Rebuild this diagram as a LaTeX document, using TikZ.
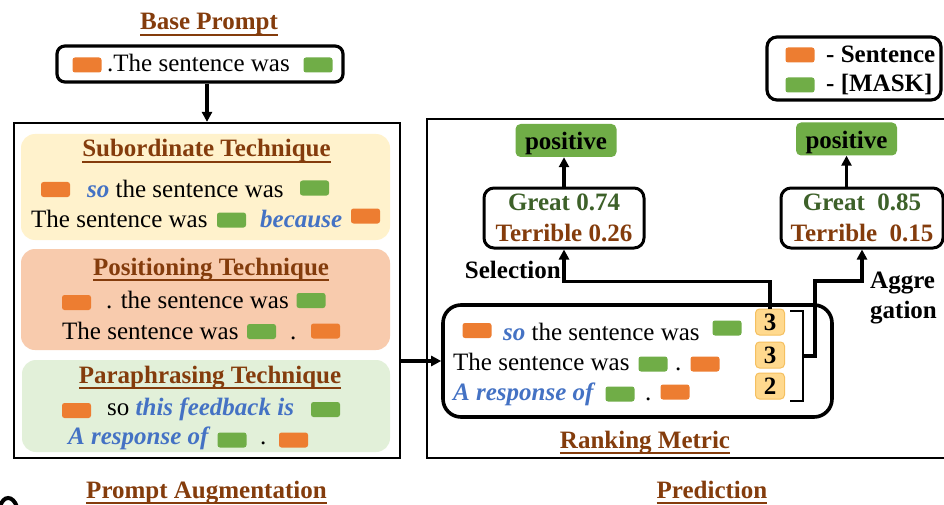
\documentclass[tikz,border=0pt]{standalone}
\usepackage{fontspec}
\setmainfont{Liberation Serif}
\usetikzlibrary{arrows.meta}

\definecolor{sentc}{HTML}{ED7D31}
\definecolor{maskc}{HTML}{70AD47}
\definecolor{titlec}{HTML}{843C0C}
\definecolor{kwc}{HTML}{4472C4}
\definecolor{greatc}{HTML}{3D6129}
\definecolor{subfill}{HTML}{FFF2CC}
\definecolor{posfill}{HTML}{F8CBAD}
\definecolor{parafill}{HTML}{E2F0D9}
\definecolor{rankfill}{HTML}{FFD98E}
\definecolor{rankline}{HTML}{F5C060}

% main text size
\newcommand\bigfont{\fontsize{25}{30}\selectfont}
% keyword in bold italic blue
\newcommand\kw[1]{\textcolor{kwc}{\textbf{\textit{#1}}}}
% bold brown underlined heading
\newcommand\ttltext[1]{{\bfseries\color{titlec}\setbox0=\hbox{#1}\rlap{\rule[-5.6pt]{\wd0}{1.8pt}}\box0}}

\tikzset{
  tok/.style={rounded corners=2.5pt, minimum width=29pt, minimum height=15pt, inner sep=0pt},
  sentbox/.style={tok, fill=sentc},
  maskbox/.style={tok, fill=maskc},
  txt/.style={inner sep=0pt, anchor=base west},
  boldtxt/.style={txt, font=\bigfont\bfseries},
  ttl/.style={inner sep=0pt, anchor=base},
  panel/.style={rounded corners=14pt, minimum width=369pt, inner sep=0pt},
  frame/.style={draw, line width=2.2pt, inner sep=0pt},
  probbox/.style={draw, line width=3pt, rounded corners=10pt, minimum width=160pt,
    minimum height=60pt, inner sep=0pt, align=center, font=\bfseries\fontsize{25}{31}\selectfont},
  posbox/.style={fill=maskc, rounded corners=5pt, minimum width=101pt, minimum height=33pt,
    inner sep=0pt, text height=19pt, text depth=0pt, font=\bigfont\bfseries},
  rankno/.style={fill=rankfill, draw=rankline, line width=1pt, rounded corners=4pt,
    minimum width=29pt, minimum height=26pt, inner sep=0pt, text height=17pt, text depth=0pt,
    font=\bigfont\bfseries},
  arr/.style={line width=3.2pt, -{Triangle[length=10pt,width=10pt]}},
  brace/.style={line width=1.6pt},
}

\begin{document}
\begin{tikzpicture}[x=1pt, y=-1pt, font=\bigfont]
\useasboundingbox (0,0) rectangle (944,505);
\fill[white] (0,0) rectangle (944,505);
\clip (0,0) rectangle (944,505);

% ---------- base prompt ----------
\node[ttl] (tbase) at (209,30) {\ttltext{Base Prompt}};
\node[draw, line width=3.2pt, rounded corners=8pt, minimum width=286pt, minimum height=36pt, inner sep=0pt] (bp) at (200,64) {};
\node[sentbox] (bp1) at (87,65) {};
\node[txt] (bp2) at (107,72) {.The sentence was};
\node[maskbox] (bp3) at (318,65) {};

% ---------- prompt augmentation ----------
\node[frame, minimum width=386pt, minimum height=335pt] (aug) at (207,290.5) {};
\draw[arr] (bp.south -| aug.north) -- (aug.north);

\node[panel, fill=subfill, minimum height=106pt] (sub) at (205.5,187) {};
\node[panel, fill=posfill, minimum height=101pt] (pos) at (205.5,299.5) {};
\node[panel, fill=parafill, minimum height=92pt, minimum width=368pt] (para) at (206,406) {};

% subordinate technique
\node[ttl] (tsub) at (206.5,157) {\ttltext{Subordinate Technique}};
\node[sentbox] (s1a) at (55.5,189.5) {};
\node[txt] (s1b) at (87,197) {\kw{so} the sentence was};
\node[maskbox] (s1c) at (314.5,188) {};
\node[txt] (s2a) at (31,227) {The sentence was};
\node[maskbox] (s2b) at (231.5,220) {};
\node[txt] (s2c) at (260,227) {\kw{because}};
\node[sentbox] (s2d) at (365.5,216) {};

% positioning technique
\node[ttl] (tpos) at (211,275) {\ttltext{Positioning Technique}};
\node[sentbox] (p1a) at (76.5,302.5) {};
\node[txt] (p1b) at (106,308) {. the sentence was};
\node[maskbox] (p1c) at (311,300.5) {};
\node[txt] (p2a) at (62,339) {The sentence was};
\node[maskbox] (p2b) at (261.5,331.5) {};
\node[txt] (p2c) at (290,339) {.};
\node[sentbox] (p2d) at (325.5,331) {};

% paraphrasing technique
\node[ttl] (tpara) at (210,383) {\ttltext{Paraphrasing Technique}};
\node[sentbox] (q1a) at (76.5,410.5) {};
\node[txt] (q1b) at (107,415) {so \kw{this feedback is}};
\node[maskbox] (q1c) at (325.5,409.5) {};
\node[txt] (q2a) at (68,444) {\kw{A response of}};
\node[maskbox] (q2b) at (232,440) {};
\node[txt] (q2c) at (260,444) {.};
\node[sentbox] (q2d) at (293.5,440) {};

\node[ttl] (taug) at (206.5,498) {\ttltext{Prompt Augmentation}};

% ---------- prediction ----------
\node[frame, minimum width=533pt, minimum height=339pt] (pred) at (693.5,288.5) {};
\node[draw, line width=3.6pt, rounded corners=18pt, minimum width=389pt, minimum height=112pt, inner sep=0pt] (rank) at (637.5,361) {};
\draw[arr] (rank.west -| aug.east) -- (rank.west);

\node[sentbox] (r1a) at (477,330.5) {};
\node[txt] (r1b) at (503,340) {\kw{so} the sentence was};
\node[maskbox] (r1c) at (727,328) {};
\node[txt] (r2a) at (453,370) {The sentence was};
\node[maskbox] (r2b) at (653,364) {};
\node[txt] (r2c) at (675,370) {.};
\node[sentbox] (r2d) at (705,364) {};
\node[txt] (r3a) at (453,400) {\kw{A response of}};
\node[maskbox] (r3b) at (620,394) {};
\node[txt] (r3c) at (645,400) {.};
\node[sentbox] (r3d) at (675,392) {};

\node[rankno] (n1) at (770,322) {3};
\node[rankno] (n2) at (770,355) {3};
\node[rankno] (n3) at (770,386) {2};

\node[ttl] (trank) at (645,448) {\ttltext{Ranking Metric}};
\node[ttl] (tpred) at (712,498) {\ttltext{Prediction}};

% probability boxes and outcomes
\node[probbox] (probL) at (564,218) {\textcolor{greatc}{Great 0.74}\\\textcolor{titlec}{Terrible 0.26}};
\node[probbox, minimum width=162pt] (probR) at (862,218) {\textcolor{greatc}{Great\ \ 0.85}\\\textcolor{titlec}{Terrible\ \ 0.15}};
\node[posbox] (posL) at (566,140.5) {positive};
\node[posbox] (posR) at (846.5,139) {positive};

\draw[arr] (probL.north) -- (probL.north |- posL.south);
\draw[arr] (posR.south |- probR.north) -- (posR.south);

% selection path
\draw[arr] (n1.north) |- ([yshift=-32pt]probL.south) -- (probL.south);
\node[boldtxt, anchor=base east] (sel) at (561,278) {Selection};

% aggregation bracket and path
\coordinate (brT) at (790,311);
\coordinate (brM) at (803,356);
\coordinate (aggK) at (815,281);
\draw[brace] (brT) -- ++(13,0) -- ++(0,90) -- ++(-13,0);
\draw[arr] (brM) -| (aggK) -| (probR.south);
\node[boldtxt] (agg1) at (870,288) {Aggre};
\node[boldtxt] (agg2) at (870,318) {gation};

% legend
\node[draw, line width=3.2pt, rounded corners=10pt, minimum width=174pt, minimum height=63pt, inner sep=0pt] (leg) at (854,68.5) {};
\node[sentbox] (lg1) at (800,55) {};
\node[boldtxt] (lg2) at (826,63) {- Sentence};
\node[maskbox] (lg3) at (800,85) {};
\node[boldtxt] (lg4) at (826,92) {- [MASK]};

% partial glyph at the lower left edge
\draw[line width=4pt] (0,507) .. controls (3,495) and (13,495) .. (17,507);
\end{tikzpicture}
\end{document}
